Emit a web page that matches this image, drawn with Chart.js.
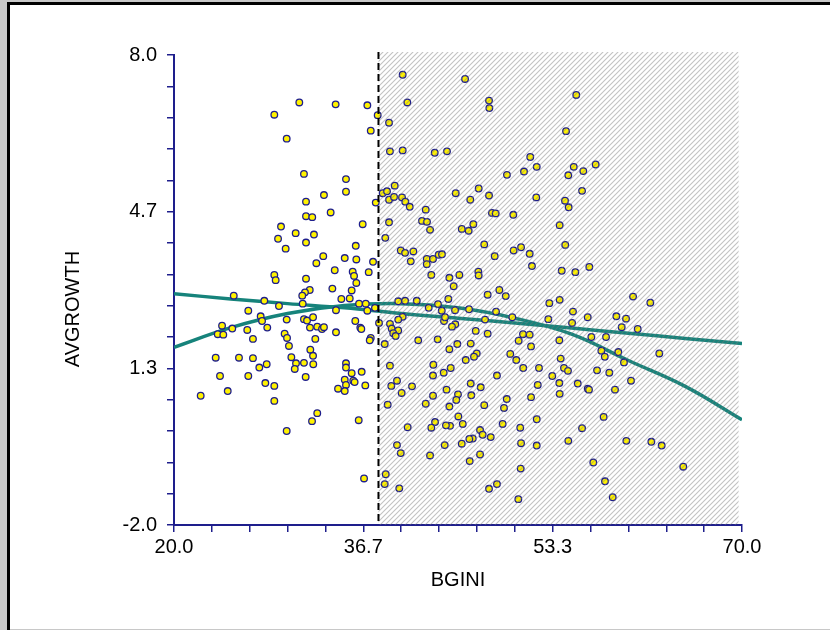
<!DOCTYPE html>
<html>
<head>
<meta charset="utf-8">
<script src="https://cdn.jsdelivr.net/npm/chart.js@4.4.1/dist/chart.umd.min.js"></script>
<style>
  html, body { margin: 0; padding: 0; background: #fff; }
  canvas { display: block; }
</style>
</head>
<body>
<canvas id="giniChart" width="830" height="630"></canvas>
<script>
// scatter values
const bgini = [
  28.83, 31.03, 34.23, 37.02, 37.93, 38.93, 29.92, 37.32, 39.01, 31.44,
  35.14, 35.14, 33.20, 31.62, 37.76, 38.37, 38.75, 39.43, 38.93, 39.37,
  31.62, 32.17, 33.79, 36.61, 38.93, 29.42, 30.71, 32.32, 29.16, 38.60,
  40.13, 45.62, 40.54, 47.73, 47.76, 55.41, 54.51, 40.13, 42.95, 44.03,
  51.36, 51.93, 50.81, 49.31, 55.19, 56.03, 54.71, 55.92, 40.07, 40.36,
  40.75, 44.80, 46.82, 46.08, 47.73, 51.89, 54.42, 54.74, 42.16, 47.99,
  48.32, 49.87, 41.83, 42.27, 42.54, 45.33, 45.94, 46.35, 53.95, 57.12,
  31.62, 29.83, 36.00, 33.14, 35.03, 36.05, 32.53, 37.52, 34.15, 35.73,
  35.85, 37.14, 28.83, 28.95, 31.62, 36.05, 33.94, 35.64, 31.95, 31.53,
  31.29, 25.26, 34.73, 35.47, 27.95, 36.29, 36.88, 31.33, 29.24, 37.69,
  34.26, 37.02, 26.54, 27.63, 27.75, 31.44, 31.71, 32.24, 29.92, 35.96,
  38.05, 32.61, 33.03, 33.20, 31.97, 28.21, 24.23, 23.85, 24.34, 25.13,
  26.45, 36.40, 36.49, 34.26, 29.74, 29.95, 26.95, 32.44, 37.32, 37.23,
  30.12, 38.55, 32.00, 32.24, 32.26, 30.33, 23.67, 25.72, 26.95, 31.44,
  30.74, 30.63, 28.16, 27.51, 35.14, 35.14, 36.52, 35.64, 35.78, 35.90,
  39.01, 24.05, 26.54, 31.59, 35.03, 35.14, 28.04, 28.83, 36.84, 34.44,
  35.03, 39.13, 24.73, 22.35, 28.83, 38.81, 39.63, 32.61, 32.15, 36.26,
  29.92, 39.01, 39.16, 39.74, 39.30, 39.51, 39.96, 40.34, 41.07, 40.84,
  42.25, 42.80, 43.30, 43.59, 42.25, 42.65, 44.24, 45.12, 44.62, 46.79,
  46.82, 47.31, 48.23, 49.90, 50.55, 51.31, 51.51, 54.44, 54.13, 55.33,
  48.64, 49.20, 47.61, 44.15, 53.04, 53.95, 55.12, 56.42, 39.74, 40.34,
  41.37, 42.42, 43.24, 43.57, 44.74, 45.97, 48.35, 40.13, 39.74, 43.77,
  43.86, 44.76, 44.47, 47.38, 49.78, 52.95, 55.04, 41.50, 43.21, 44.94,
  46.12, 46.56, 47.61, 50.34, 50.72, 51.31, 51.43, 53.92, 44.24, 46.65,
  46.41, 45.68, 49.60, 50.13, 50.74, 52.13, 54.04, 54.33, 54.68, 42.83,
  44.36, 42.80, 43.74, 48.43, 53.30, 40.95, 40.04, 43.99, 46.12, 47.00,
  45.00, 44.85, 42.80, 46.17, 52.02, 53.92, 55.54, 53.95, 51.43, 49.29,
  42.16, 44.24, 47.31, 49.05, 45.03, 45.42, 44.30, 42.98, 42.65, 43.94,
  40.57, 48.93, 50.48, 51.93, 55.92, 56.42, 56.56, 60.41, 61.93, 58.94,
  59.79, 59.41, 60.82, 56.74, 58.03, 57.62, 57.92, 59.11, 62.72, 59.61,
  57.24, 58.32, 56.53, 58.82, 60.23, 57.82, 36.73, 39.63, 39.96, 42.54,
  43.83, 38.64, 38.55, 39.83, 45.33, 46.94, 47.17, 46.30, 46.00, 47.88,
  50.55, 51.93, 46.03, 46.94, 50.52, 47.73, 48.43, 50.31, 54.71, 56.91,
  57.94, 58.62, 59.82, 62.02, 62.93, 64.83
];
const avgGrowth = [
  6.73, 6.99, 6.95, 6.93, 6.72, 6.56, 6.22, 6.39, 5.95, 5.47,
  5.36, 5.09, 5.02, 4.88, 4.86, 5.06, 5.10, 5.22, 4.92, 4.98,
  4.57, 4.55, 4.65, 4.40, 4.44, 4.35, 4.21, 4.18, 4.09, 4.11,
  7.58, 7.49, 6.99, 7.03, 6.87, 7.15, 6.38, 5.97, 5.92, 5.95,
  5.83, 5.62, 5.52, 5.45, 5.62, 5.53, 5.44, 5.11, 4.97, 4.88,
  4.77, 5.06, 5.16, 4.92, 5.01, 4.97, 4.90, 4.76, 4.71, 4.64,
  4.63, 4.60, 4.47, 4.45, 4.28, 4.30, 4.26, 4.40, 4.38, 5.67,
  4.01, 3.88, 3.94, 3.72, 3.68, 3.65, 3.57, 3.60, 3.42, 3.39,
  3.30, 3.38, 3.32, 3.21, 3.24, 3.15, 3.03, 2.99, 3.00, 2.95,
  2.88, 2.88, 2.81, 2.82, 2.77, 2.71, 2.71, 2.71, 2.66, 2.62,
  2.57, 2.56, 2.56, 2.44, 2.34, 2.38, 2.35, 2.42, 2.37, 2.34,
  2.30, 2.22, 2.17, 2.21, 2.20, 2.20, 2.24, 2.06, 2.05, 2.18,
  2.15, 2.20, 2.17, 2.10, 2.07, 1.98, 1.96, 1.96, 1.98, 1.93,
  1.81, 1.85, 1.73, 1.60, 1.42, 1.57, 1.56, 1.56, 1.55, 1.45,
  1.44, 1.32, 1.42, 1.35, 1.44, 1.35, 1.26, 1.23, 1.07, 1.04,
  1.39, 1.17, 1.17, 1.15, 1.09, 0.98, 1.02, 0.96, 0.97, 0.90,
  0.85, 0.96, 0.85, 0.75, 0.64, 0.56, 1.07, 0.38, 0.21, 0.23,
  0.00, 2.28, 2.18, 2.14, 2.08, 2.02, 3.84, 3.79, 3.82, 3.61,
  3.66, 3.66, 3.75, 3.76, 3.55, 3.32, 3.26, 3.32, 3.08, 3.39,
  3.31, 3.97, 3.72, 3.84, 3.91, 3.77, 3.51, 3.96, 3.41, 3.38,
  3.00, 2.87, 2.90, 2.81, 2.72, 2.79, 2.54, 2.42, 2.76, 2.77,
  2.77, 2.62, 2.70, 2.56, 2.57, 2.59, 2.54, 2.43, 2.37, 2.34,
  2.42, 2.27, 2.22, 2.37, 2.42, 2.38, 2.30, 1.93, 1.95, 1.85,
  1.86, 2.13, 2.07, 1.92, 2.06, 2.05, 1.80, 1.93, 1.74, 1.65,
  1.58, 1.51, 1.64, 1.51, 1.34, 1.34, 1.54, 1.34, 1.28, 1.41,
  1.34, 1.18, 1.24, 1.18, 1.17, 0.95, 0.81, 0.88, 1.01, 0.93,
  0.78, 0.66, 0.75, 0.76, 0.98, 1.02, 1.01, 0.79, 0.72, 0.68,
  0.58, 0.52, 0.55, 0.49, 0.31, 0.15, 0.11, 0.19, 0.07, 0.12,
  0.08, 0.15, 0.07, 0.25, 0.06, 0.90, 3.49, 2.86, 2.73, 2.44,
  2.39, 2.21, 2.17, 2.00, 2.00, 1.71, 1.58, 1.68, 1.65, 1.46,
  1.29, 1.24, 0.88, 0.88, 1.07, 0.30, -1.01, -0.30, -0.47, -0.52,
  -0.30, -0.92, -1.13, -1.22, -0.27, 0.02, -0.08, -0.16, -0.17, -0.13,
  -0.26, -0.31, -0.64, -0.50, -0.80, -1.23, -1.13, -1.45, -0.21, -0.67,
  -1.07, -1.41, -0.21, -0.23, -0.31, -0.76
];

// the two fitted curves
const fitX = [20, 25, 30, 35, 40, 45, 50, 55, 60, 65, 70];
const linearFit = [2.92, 2.81, 2.71, 2.62, 2.50, 2.40, 2.30, 2.19, 2.08, 1.97, 1.86];
const quadFit = [1.78, 2.20, 2.50, 2.67, 2.71, 2.62, 2.40, 2.06, 1.50, 0.95, 0.24];

// axes
const xRange = [20, 70];
const yRange = [-2, 8];
const xTickLabels = ['20.0', '36.7', '53.3', '70.0'];
const yTickLabels = ['-2.0', '1.3', '4.7', '8.0'];
const shadeRange = [38, 69.7];   // shaded region + dashed cutoff at 38

const navy = '#1e1e8c';
const teal = '#16837b';
const fontName = "'Liberation Sans', Arial, sans-serif";

function makeTicks(min, max, n) {
    let out = [];
    for (let i = 0; i <= n; i++) {
        out.push({ value: min + i * (max - min) / n });
    }
    return out;
}

// diagonal hatch tile
function hatchPattern(ctx) {
    let tile = document.createElement('canvas');
    tile.width = 5;
    tile.height = 5;
    let t = tile.getContext('2d');
    t.strokeStyle = 'rgba(120,120,120,0.45)';
    t.lineWidth = 1.1;
    t.beginPath();
    t.moveTo(-1, 6); t.lineTo(6, -1);
    t.moveTo(-1, 1); t.lineTo(1, -1);
    t.moveTo(4, 6); t.lineTo(6, 4);
    t.stroke();
    return ctx.createPattern(tile, 'repeat');
}

const framePlugin = {
    id: 'frame',
    beforeDraw(chart) {
        let ctx = chart.ctx;
        ctx.save();
        ctx.fillStyle = '#fff';
        ctx.fillRect(0, 0, chart.width, chart.height);
        ctx.fillStyle = '#c8c8c8';
        ctx.fillRect(0, 0, chart.width, 2);
        ctx.fillRect(0, 0, 7, chart.height);
        ctx.fillRect(0, chart.height - 1, chart.width, 1);
        ctx.fillStyle = '#000';
        ctx.fillRect(7, 2, chart.width - 7, 3);
        ctx.fillRect(7, 2, 3, chart.height - 2);
        ctx.restore();
    },
    afterDraw(chart) {
        let ctx = chart.ctx;
        ctx.save();
        ctx.fillStyle = '#000';
        ctx.font = '20px ' + fontName;
        ctx.textAlign = 'center';
        ctx.textBaseline = 'middle';
        ctx.fillText('BGINI', (chart.chartArea.left + chart.chartArea.right) / 2, 580);
        ctx.translate(73, 309);
        ctx.rotate(-Math.PI / 2);
        ctx.fillText('AVGROWTH', 0, 0);
        ctx.restore();
    }
};

const shadePlugin = {
    id: 'shade',
    afterDatasetsDraw(chart) {
        let ctx = chart.ctx;
        let xs = chart.scales.x;
        let area = chart.chartArea;
        let x0 = xs.getPixelForValue(shadeRange[0]);
        let x1 = xs.getPixelForValue(shadeRange[1]);
        ctx.save();
        ctx.fillStyle = hatchPattern(ctx);
        ctx.fillRect(x0, area.top - 3, x1 - x0, area.bottom - area.top + 3);
        ctx.strokeStyle = '#000';
        ctx.lineWidth = 2;
        ctx.setLineDash([7, 4]);
        ctx.beginPath();
        ctx.moveTo(x0, area.top - 3);
        ctx.lineTo(x0, area.bottom);
        ctx.stroke();
        ctx.restore();
    }
};

let points = bgini.map((x, i) => ({ x: x, y: avgGrowth[i] }));
let linePts = fitX.map((x, i) => ({ x: x, y: linearFit[i] }));
let quadPts = fitX.map((x, i) => ({ x: x, y: quadFit[i] }));

let tickFont = { family: fontName, size: 20 };

let config = {
    type: 'scatter',
    data: {
        datasets: [
            {
                label: 'AVGROWTH',
                data: points,
                backgroundColor: '#fff200',
                borderColor: navy,
                borderWidth: 1.3,
                pointRadius: 3.3,
                pointHoverRadius: 3.3
            },
            {
                label: 'linear',
                data: linePts,
                showLine: true,
                borderColor: teal,
                borderWidth: 3.5,
                pointRadius: 0,
                tension: 0.4,
                fill: false
            },
            {
                label: 'quadratic',
                data: quadPts,
                showLine: true,
                borderColor: teal,
                borderWidth: 3.5,
                pointRadius: 0,
                tension: 0.4,
                fill: false
            }
        ]
    },
    options: {
        responsive: false,
        animation: false,
        devicePixelRatio: 1,
        layout: { padding: { left: 0, top: 55, right: 88, bottom: 0 } },
        plugins: {
            legend: { display: false },
            tooltip: { enabled: false }
        },
        scales: {
            x: {
                type: 'linear',
                min: xRange[0],
                max: xRange[1],
                afterBuildTicks: function (axis) { axis.ticks = makeTicks(xRange[0], xRange[1], 15); },
                afterFit: function (axis) { axis.height = 105; },
                ticks: {
                    autoSkip: false,
                    maxRotation: 0,
                    color: '#000',
                    font: tickFont,
                    padding: 3,
                    callback: function (v, i) { return i % 5 === 0 ? xTickLabels[i / 5] : ''; }
                },
                grid: { drawOnChartArea: false, tickLength: 7, color: navy, lineWidth: 1.5 },
                border: { color: navy, width: 2 }
            },
            y: {
                type: 'linear',
                min: yRange[0],
                max: yRange[1],
                afterBuildTicks: function (axis) { axis.ticks = makeTicks(yRange[0], yRange[1], 15); },
                afterFit: function (axis) { axis.width = 174; },
                ticks: {
                    autoSkip: false,
                    color: '#000',
                    font: tickFont,
                    padding: 10,
                    callback: function (v, i) { return i % 5 === 0 ? yTickLabels[i / 5] : ''; }
                },
                grid: { drawOnChartArea: false, tickLength: 7, color: navy, lineWidth: 1.5 },
                border: { color: navy, width: 2 }
            }
        }
    },
    plugins: [framePlugin, shadePlugin]
};

let giniChart = new Chart(document.getElementById('giniChart'), config);
</script>
</body>
</html>
